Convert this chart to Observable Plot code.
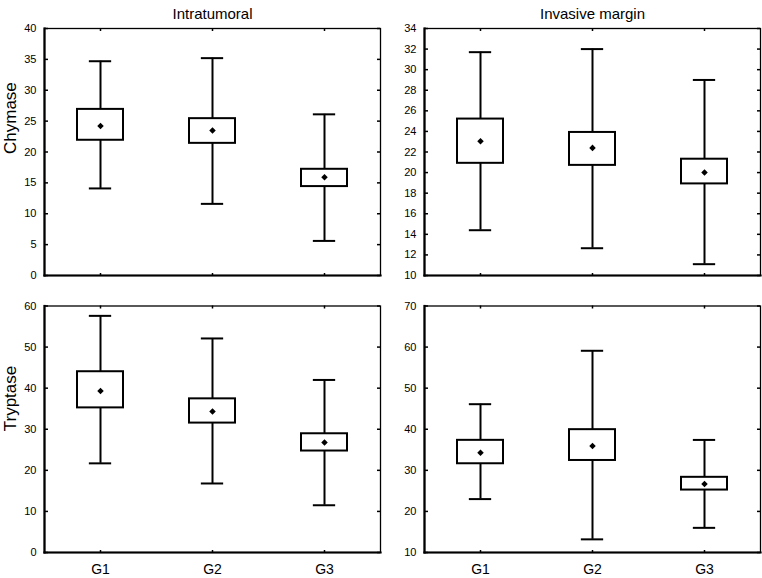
<!DOCTYPE html>
<html>
<head>
<meta charset="utf-8">
<script src="https://cdn.jsdelivr.net/npm/d3@7"></script>
<script src="https://cdn.jsdelivr.net/npm/@observablehq/plot@0.6"></script>
<style>
  html, body { margin: 0; padding: 0; background: white; }
  #wrap { position: relative; width: 762px; height: 578px; overflow: hidden; background: white; }
</style>
</head>
<body>
<div id="wrap"></div>
<script>
const groups = ["G1", "G2", "G3"];

// Chymase – Intratumoral
const chyIntraMin  = [14.1, 11.6, 5.6];
const chyIntraQ1   = [21.9, 21.4, 14.4];
const chyIntraMean = [24.2, 23.5, 15.9];
const chyIntraQ3   = [26.9, 25.4, 17.2];
const chyIntraMax  = [34.7, 35.2, 26.1];
const chyIntraTicks = [0, 5, 10, 15, 20, 25, 30, 35, 40];

// Chymase – Invasive margin
const chyInvMin  = [14.4, 12.65, 11.1];
const chyInvQ1   = [20.9, 20.7, 18.9];
const chyInvMean = [23.05, 22.4, 20.0];
const chyInvQ3   = [25.2, 23.9, 21.3];
const chyInvMax  = [31.7, 32.0, 29.0];
const chyInvTicks = [10, 12, 14, 16, 18, 20, 22, 24, 26, 28, 30, 32, 34];

// Tryptase – Intratumoral
const tryIntraMin  = [21.7, 16.8, 11.5];
const tryIntraQ1   = [35.2, 31.5, 24.7];
const tryIntraMean = [39.3, 34.3, 26.8];
const tryIntraQ3   = [44.0, 37.4, 28.9];
const tryIntraMax  = [57.6, 52.1, 42.0];
const tryIntraTicks = [0, 10, 20, 30, 40, 50, 60];

// Tryptase – Invasive margin
const tryInvMin  = [23.0, 13.2, 16.0];
const tryInvQ1   = [31.6, 32.4, 25.2];
const tryInvMean = [34.3, 35.9, 26.7];
const tryInvQ3   = [37.3, 39.9, 28.3];
const tryInvMax  = [46.1, 59.1, 37.4];
const tryInvTicks = [10, 20, 30, 40, 50, 60, 70];

const colTitles = ["Intratumoral", "Invasive margin"];
const rowTitles = ["Chymase", "Tryptase"];

function panel(o) {
  const rows = groups.map((g, i) => ({
    g, lo: o.mn[i], q1: o.q1[i], mean: o.mean[i], q3: o.q3[i], hi: o.mx[i]
  }));
  const lo = o.ticks[0], hi = o.ticks[o.ticks.length - 1];
  const blank = () => "";
  const marks = [
    Plot.ruleX(rows, {x: "g", y1: "lo", y2: "hi", stroke: "black", strokeWidth: 2}),
    Plot.barY(rows, {x: "g", y1: "q1", y2: "q3", fill: "white", stroke: "black", strokeWidth: 2}),
    Plot.tickY(rows, {x: "g", y: "lo", stroke: "black", strokeWidth: 2, insetLeft: 11.85, insetRight: 11.85}),
    Plot.tickY(rows, {x: "g", y: "hi", stroke: "black", strokeWidth: 2, insetLeft: 11.85, insetRight: 11.85}),
    Plot.dot(rows, {x: "g", y: "mean", symbol: "square", rotate: 45, r: 2.6, fill: "black", stroke: "none"}),
    Plot.frame({stroke: "black", strokeWidth: 1.3}),
    Plot.frame({anchor: "left", stroke: "black", strokeWidth: 2.2}),
    Plot.frame({anchor: "bottom", stroke: "black", strokeWidth: 2.2}),
    // tick labels (no tick lines)
    Plot.axisY(o.ticks, {anchor: "left", tickSize: 0, tickPadding: 8, fontSize: 11, label: null}),
    Plot.axisX(groups, {anchor: "bottom", tickSize: 0, tickPadding: 12, fontSize: 14,
      tickFormat: o.showX ? (d => d) : blank, label: null}),
    // inward tick marks on all four sides
    Plot.axisY(o.ticks, {anchor: "right", frameAnchor: "left", tickSize: 3, tickFormat: blank, label: null, stroke: "black", strokeWidth: 1.5}),
    Plot.axisY(o.ticks, {anchor: "left", frameAnchor: "right", tickSize: 3, tickFormat: blank, label: null, stroke: "black", strokeWidth: 1.5}),
    Plot.axisX(groups, {anchor: "bottom", frameAnchor: "top", tickSize: 3, tickFormat: blank, label: null, stroke: "black", strokeWidth: 1.5}),
    Plot.axisX(groups, {anchor: "top", frameAnchor: "bottom", tickSize: 3, tickFormat: blank, label: null, stroke: "black", strokeWidth: 1.5})
  ];
  if (o.title) marks.push(Plot.text([o.title], {frameAnchor: "top", dy: -20, fontSize: 15, fill: "black"}));
  if (o.ylabel) marks.push(Plot.text([o.ylabel], {frameAnchor: "left", dx: -34, dy: 2, rotate: -90, fontSize: 17, fill: "black"}));
  const svg = Plot.plot({
    width: o.width, height: o.height,
    marginLeft: o.ml, marginRight: o.mr, marginTop: o.mt, marginBottom: o.mb,
    style: {fontFamily: "'Liberation Sans', Arial, sans-serif", fontSize: "11px", color: "black", background: "transparent", overflow: "visible"},
    x: {type: "band", domain: groups, paddingInner: 0.592, paddingOuter: 0.296, axis: null},
    y: {domain: [lo, hi], axis: null},
    marks
  });
  svg.style.left = o.left + "px";
  svg.style.top = o.top + "px";
  svg.style.position = "absolute";
  return svg;
}

const wrap = document.getElementById("wrap");
const topH = 278, botH = 293;
wrap.appendChild(panel({mn: chyIntraMin, q1: chyIntraQ1, mean: chyIntraMean, q3: chyIntraQ3, mx: chyIntraMax,
  ticks: chyIntraTicks, title: colTitles[0], ylabel: rowTitles[0], showX: false,
  left: 0, top: 0, width: 381, height: topH, ml: 44, mr: 1, mt: 28, mb: 3}));
wrap.appendChild(panel({mn: chyInvMin, q1: chyInvQ1, mean: chyInvMean, q3: chyInvQ3, mx: chyInvMax,
  ticks: chyInvTicks, title: colTitles[1], showX: false,
  left: 380, top: 0, width: 382, height: topH, ml: 44, mr: 2, mt: 28, mb: 3}));
wrap.appendChild(panel({mn: tryIntraMin, q1: tryIntraQ1, mean: tryIntraMean, q3: tryIntraQ3, mx: tryIntraMax,
  ticks: tryIntraTicks, ylabel: rowTitles[1], showX: true,
  left: 0, top: 285, width: 381, height: botH, ml: 44, mr: 1, mt: 20.5, mb: 26}));
wrap.appendChild(panel({mn: tryInvMin, q1: tryInvQ1, mean: tryInvMean, q3: tryInvQ3, mx: tryInvMax,
  ticks: tryInvTicks, showX: true,
  left: 380, top: 285, width: 382, height: botH, ml: 44, mr: 2, mt: 20.5, mb: 26}));
</script>
</body>
</html>
